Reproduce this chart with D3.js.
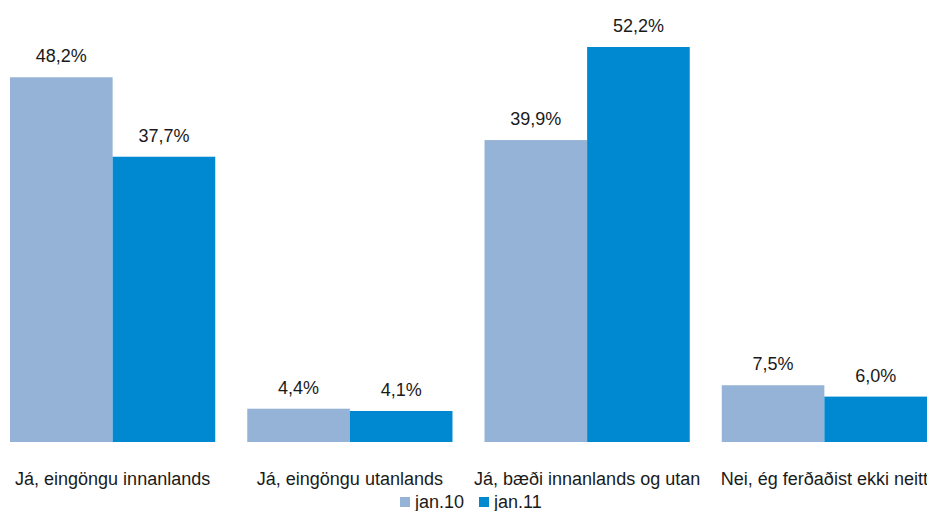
<!DOCTYPE html>
<html>
<head>
<meta charset="utf-8">
<script src="https://cdn.jsdelivr.net/npm/d3@7"></script>
<style>
  body { margin: 0; background: #fff; }
  text { font-family: "Liberation Sans Narrow", "Arial Narrow", "Liberation Sans", sans-serif; fill: #1a1a1a; }
</style>
</head>
<body>
<svg id="chart" width="927" height="511"></svg>
<script>
const categories = ["Já, eingöngu innanlands", "Já, eingöngu utanlands", "Já, bæði innanlands og utan", "Nei, ég ferðaðist ekki neitt"];
const seriesNames = ["jan.10", "jan.11"];
const jan10 = [48.2, 4.4, 39.9, 7.5];
const jan11 = [37.7, 4.1, 52.2, 6.0];
const colors = ["#95b3d7", "#0088d1"];

const width = 927, height = 511;
const baseline = 442;

const svg = d3.select("#chart");

const x0 = d3.scaleBand().domain(categories).range([-6, 943])
  .paddingInner(0.135).paddingOuter(0.0675);
const x1 = d3.scaleBand().domain(seriesNames).range([0, x0.bandwidth()]);
const y = d3.scaleLinear().domain([0, 52.2]).range([baseline, 47]);

const fmt = (v) => d3.format(".1f")(v).replace(".", ",") + "%";

const rows = categories.map((cat, i) => ({ cat, values: [jan10[i], jan11[i]] }));

const groups = svg.selectAll(".group")
  .data(rows)
  .join("g")
  .attr("class", "group")
  .attr("transform", (d) => `translate(${x0(d.cat)},0)`);

groups.selectAll("rect")
  .data((d) => d.values.map((v, j) => ({ name: seriesNames[j], v, j })))
  .join("rect")
  .attr("x", (d) => x1(d.name))
  .attr("y", (d) => y(d.v))
  .attr("width", x1.bandwidth())
  .attr("height", (d) => baseline - y(d.v))
  .attr("fill", (d) => colors[d.j]);

groups.selectAll(".val")
  .data((d) => d.values.map((v, j) => ({ name: seriesNames[j], v, j })))
  .join("text")
  .attr("class", "val")
  .attr("x", (d) => x1(d.name) + x1.bandwidth() / 2)
  .attr("y", (d) => y(d.v) - 15)
  .attr("text-anchor", "middle")
  .attr("font-size", 18)
  .text((d) => fmt(d.v));

// Category labels
svg.selectAll(".cat")
  .data(categories)
  .join("text")
  .attr("class", "cat")
  .attr("x", (d) => x0(d) + x0.bandwidth() / 2)
  .attr("y", 485)
  .attr("text-anchor", "middle")
  .attr("font-size", 18)
  .text((d) => d);

// Legend
const legendX = [400, 479];
const legend = svg.selectAll(".legend")
  .data(seriesNames)
  .join("g")
  .attr("class", "legend")
  .attr("transform", (d, i) => `translate(${legendX[i]},497)`);

legend.append("rect")
  .attr("width", 10).attr("height", 10)
  .attr("fill", (d, i) => colors[i]);

legend.append("text")
  .attr("x", 15).attr("y", 11)
  .attr("font-size", 18)
  .text((d) => d);
</script>
</body>
</html>
